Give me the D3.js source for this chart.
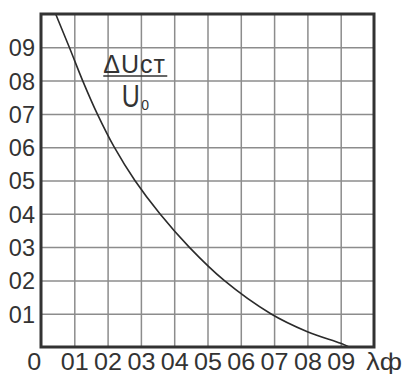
<!DOCTYPE html>
<html>
<head>
<meta charset="utf-8">
<script src="https://cdn.jsdelivr.net/npm/d3@7"></script>
<style>
  html, body { margin: 0; padding: 0; background: #fff; }
  svg { display: block; }
  text { font-family: "Liberation Sans", Arial, sans-serif; fill: #333; }
</style>
</head>
<body>
<svg id="chart" width="404" height="374"></svg>
<script>
// Relative voltage drop vs. λф
const lambda = [0.044, 0.085, 0.125, 0.169, 0.22, 0.282, 0.357, 0.445, 0.55, 0.69, 0.80, 0.90, 0.925];
const dU     = [1.0,   0.9,   0.8,   0.7,   0.6,  0.5,   0.4,   0.3,   0.2,  0.1,  0.046, 0.011, 0.0];

const xTicks = [0.1, 0.2, 0.3, 0.4, 0.5, 0.6, 0.7, 0.8, 0.9];
const xTickLabels = ["01", "02", "03", "04", "05", "06", "07", "08", "09"];
const yTicks = [0.1, 0.2, 0.3, 0.4, 0.5, 0.6, 0.7, 0.8, 0.9];
const yTickLabels = ["01", "02", "03", "04", "05", "06", "07", "08", "09"];
const originLabel = "0";
const xAxisName = "λф";

const FONT = '"Liberation Sans", Arial, sans-serif';
const svg = d3.select("#chart");
const m = { left: 41, right: 374, top: 14, bottom: 347 };
const W = m.right - m.left, H = m.bottom - m.top;

const x = d3.scaleLinear().domain([0, 1]).range([m.left, m.right]);
const y = d3.scaleLinear().domain([0, 1]).range([m.bottom, m.top]);

// grid + tick labels
const gx = svg.append("g")
  .attr("transform", `translate(0,${m.bottom})`)
  .call(d3.axisBottom(x).tickValues(xTicks).tickSize(-H).tickPadding(6)
    .tickFormat((d, i) => xTickLabels[i]));
const gy = svg.append("g")
  .attr("transform", `translate(${m.left},0)`)
  .call(d3.axisLeft(y).tickValues(yTicks).tickSize(-W).tickPadding(6)
    .tickFormat((d, i) => yTickLabels[i]));

[gx, gy].forEach(g => {
  g.attr("font-size", null).attr("font-family", null);
  g.select(".domain").remove();
  g.selectAll(".tick line").attr("stroke", "#8c8c8c").attr("stroke-width", 1.5);
  g.selectAll(".tick text")
    .style("font-family", FONT).style("font-size", "23.5px")
    .attr("fill", "#333");
});
// bottom labels are set a little wider than the left ones
gx.selectAll(".tick text").attr("dy", "0.72em").attr("transform", "scale(1.07,1)");
gy.selectAll(".tick text").attr("dy", "0.36em");

// origin and axis name
const bottomLabel = (v, t, sx) => svg.append("g")
  .attr("transform", `translate(${x(v)},${m.bottom + 6}) scale(${sx},1)`)
  .append("text").attr("dy", "0.72em").attr("text-anchor", "middle")
  .style("font-size", "23.5px").text(t);
bottomLabel(-0.02, originLabel, 1.07);
bottomLabel(1.03, xAxisName, 1.15);

// curve
svg.append("clipPath").attr("id", "plot")
  .append("rect").attr("x", m.left).attr("y", m.top).attr("width", W).attr("height", H);

const line = d3.line()
  .x((d, i) => x(lambda[i]))
  .y(d => y(d))
  .curve(d3.curveCatmullRom.alpha(0.5));

svg.append("path")
  .attr("clip-path", "url(#plot)")
  .attr("d", line(dU))
  .attr("fill", "none")
  .attr("stroke", "#2b2b2b")
  .attr("stroke-width", 1.6);

// frame
svg.append("rect")
  .attr("x", m.left).attr("y", m.top).attr("width", W).attr("height", H)
  .attr("fill", "none").attr("stroke", "#333").attr("stroke-width", 3);

// ΔUст / U0 annotation
const fx = x(0.187);
svg.append("text").attr("x", fx).attr("y", 73).style("font-size", "25px")
  .attr("letter-spacing", 1).text("ΔUст");
svg.append("line").attr("x1", fx).attr("x2", fx + 64).attr("y1", 76).attr("y2", 76)
  .attr("stroke", "#333").attr("stroke-width", 1.6);
svg.append("g").attr("transform", `translate(${fx + 18.5},106.5) scale(1,1.22)`)
  .append("text").attr("x", 0).attr("y", 0).style("font-size", "25px").text("U");
svg.append("text").attr("x", fx + 38).attr("y", 110).style("font-size", "14px").text("0");
</script>
</body>
</html>
